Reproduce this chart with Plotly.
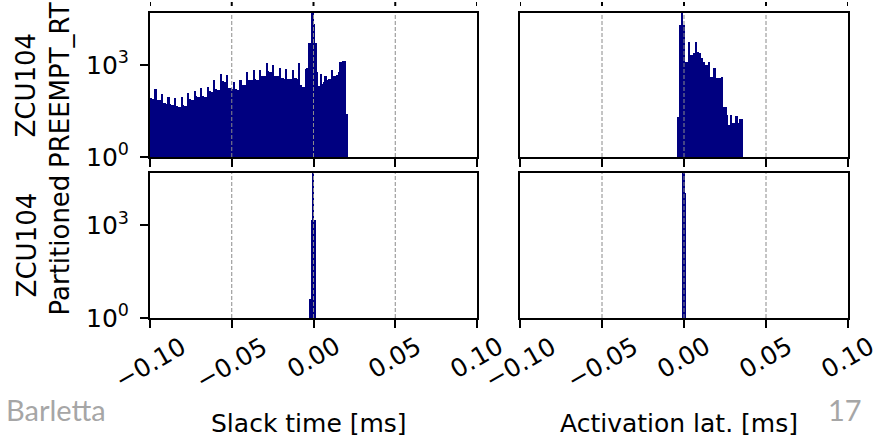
import numpy as np
import plotly.graph_objects as go

# ---------------- data ----------------
tick_vals = [-0.10, -0.05, 0.00, 0.05, 0.10]
tick_text = ["\u22120.10", "\u22120.05", "0.00", "0.05", "0.10"]
ytick_vals = [1, 1000]
ytick_text = ["10<sup>0</sup>", "10<sup>3</sup>"]

row_labels = ["ZCU104<br>PREEMPT_RT", "ZCU104<br>Partitioned"]
col_labels = ["Slack time [ms]", "Activation lat. [ms]"]

# PREEMPT_RT slack time histogram (bins of 0.001 ms starting at -0.100 ms)
rt_slack_start = -0.100
rt_slack_width = 0.001
rt_slack_counts = [
    85, 80, 76, 162, 75, 72, 70, 114, 60, 57, 55, 94, 52, 50, 48, 87,
    46, 44, 43, 94, 50, 47, 46, 120, 78, 73, 70, 147, 98, 94, 90, 174,
    100, 94, 92, 189, 140, 136, 130, 325, 165, 155, 150, 510, 300, 288, 280, 476,
    180, 174, 168, 288, 160, 155, 150, 325, 230, 224, 220, 608, 330, 325, 318, 690,
    340, 325, 320, 690, 450, 438, 430, 1140, 620, 608, 600, 1000, 450, 438, 430, 780,
    380, 370, 365, 725, 360, 354, 350, 690, 380, 370, 360, 1200, 224, 200, 190, 725,
    780, 5100, 5100, 60000, 22700, 5100, 600, 210, 500, 250, 280, 450, 320, 340, 360, 690,
    440, 450, 460, 600, 1290, 1300, 1350, 1350, 25,
]

# PREEMPT_RT activation latency histogram
rt_act_start = -0.0040
rt_act_width = 0.00111
rt_act_counts = [
    20, 20000, 60000, 20000, 1300, 1300, 5800, 2100, 2100, 2400, 5800, 2750,
    2400, 1650, 1290, 1000, 1000, 1290, 420, 420, 780, 370, 370, 370,
    400, 44, 44, 24, 11, 24, 13, 13, 21, 13, 18, 18,
]

# Partitioned slack time histogram
part_slack_start = -0.0025
part_slack_width = 0.0005
part_slack_counts = [4, 4, 4, 1500, 60000, 1500, 1500, 1500]

# Partitioned activation latency histogram
part_act_start = -0.0010
part_act_width = 0.0005
part_act_counts = [60000, 60000, 60000, 11000]

# ---------------- figure ----------------
W, H = 887, 440
FONT = "DejaVu Sans"
NAVY = "#000080"
FS = 25

def centers(start, width, counts):
    return [start + width * (i + 0.5) for i in range(len(counts))]

panels = [
    (rt_slack_start, rt_slack_width, rt_slack_counts),
    (rt_act_start, rt_act_width, rt_act_counts),
    (part_slack_start, part_slack_width, part_slack_counts),
    (part_act_start, part_act_width, part_act_counts),
]

fig = go.Figure()
for k, (s, w, c) in enumerate(panels):
    suffix = "" if k == 0 else str(k + 1)
    fig.add_trace(go.Bar(
        x=centers(s, w, c), y=c, width=[w] * len(c),
        marker=dict(color=NAVY, line=dict(width=0)),
        xaxis="x" + suffix, yaxis="y" + suffix, showlegend=False,
    ))

xdom = [[150 / W, 477 / W], [520 / W, 848 / W]]
ydom = [[1 - 157 / H, 1 - 13 / H], [1 - 318 / H, 1 - 173 / H]]

layout = dict(
    width=W, height=H, margin=dict(l=0, r=0, t=0, b=0, autoexpand=False),
    paper_bgcolor="white", plot_bgcolor="white",
    bargap=0, font=dict(family=FONT, size=FS, color="black"),
)
for k in range(4):
    r, col = divmod(k, 2)
    suffix = "" if k == 0 else str(k + 1)
    layout["xaxis" + suffix] = dict(
        domain=xdom[col], anchor="y" + suffix, range=[-0.1, 0.1],
        tickmode="array", tickvals=tick_vals, ticktext=tick_text,
        showticklabels=False, automargin=False,
        ticks="outside", ticklen=8, tickwidth=2, tickcolor="black",
        showline=True, linewidth=2, linecolor="black", mirror=True,
        showgrid=False, zeroline=False,
    )
    layout["yaxis" + suffix] = dict(
        domain=ydom[r], anchor="x" + suffix, type="log", range=[0, 4.7],
        tickmode="array", tickvals=ytick_vals, ticktext=ytick_text,
        showticklabels=(col == 0), ticks="outside" if col == 0 else "",
        ticklen=8, tickwidth=2, tickcolor="black", automargin=False,
        ticklabelstandoff=6,
        showline=True, linewidth=2, linecolor="black", mirror=True,
        showgrid=False, zeroline=False,
        tickfont=dict(family=FONT, size=FS, color="black"),
    )
fig.update_layout(**layout)

# dashed vertical grid lines drawn above the bars
for k in range(4):
    suffix = "" if k == 0 else str(k + 1)
    for tv in tick_vals[1:-1]:
        fig.add_shape(type="line", xref="x" + suffix, yref="y" + suffix + " domain",
                      x0=tv, x1=tv, y0=0, y1=1, layer="above",
                      line=dict(color="#8a8a8a", width=1, dash="4px,2px"))

# tick stubs of the cropped row of panels above the top row
for suffix in ("", "2"):
    for tv in tick_vals:
        fig.add_shape(type="line", xref="x" + suffix, yref="paper",
                      x0=tv, x1=tv, y0=1 - 2 / H, y1=1 - 6 / H, layer="above",
                      line=dict(color="black", width=2))

# rotated x tick labels, centred under their ticks (bottom row)
for k in (2, 3):
    suffix = str(k + 1)
    for tv, tt in zip(tick_vals, tick_text):
        fig.add_annotation(text=tt, xref="x" + suffix, yref="paper",
                           x=tv, y=1 - 330 / H, textangle=-30,
                           showarrow=False, xanchor="center", yanchor="top",
                           borderpad=0,
                           font=dict(family=FONT, size=FS, color="black"))

# row labels
for r in range(2):
    fig.add_annotation(text=row_labels[r], xref="paper", yref="paper",
                       x=43 / W, y=sum(ydom[r]) / 2, textangle=-90,
                       showarrow=False, xanchor="center", yanchor="middle",
                       font=dict(family=FONT, size=26, color="black"))
# column labels
for col in range(2):
    fig.add_annotation(text=col_labels[col], xref="paper", yref="paper",
                       x=sum(xdom[col]) / 2 - 5 / W, y=1 - 423 / H,
                       showarrow=False, xanchor="center", yanchor="middle",
                       font=dict(family=FONT, size=FS, color="black"))

# slide footer
fig.add_annotation(text="Barletta", xref="paper", yref="paper", x=4 / W, y=1 - 409 / H,
                   showarrow=False, xanchor="left", yanchor="middle",
                   font=dict(family="Lato", size=29, color="#a6a6a6"))
fig.add_annotation(text="17", xref="paper", yref="paper", x=864 / W, y=1 - 409 / H,
                   showarrow=False, xanchor="right", yanchor="middle",
                   font=dict(family="Lato", size=29, color="#a6a6a6"))

fig.write_html("out.html")
